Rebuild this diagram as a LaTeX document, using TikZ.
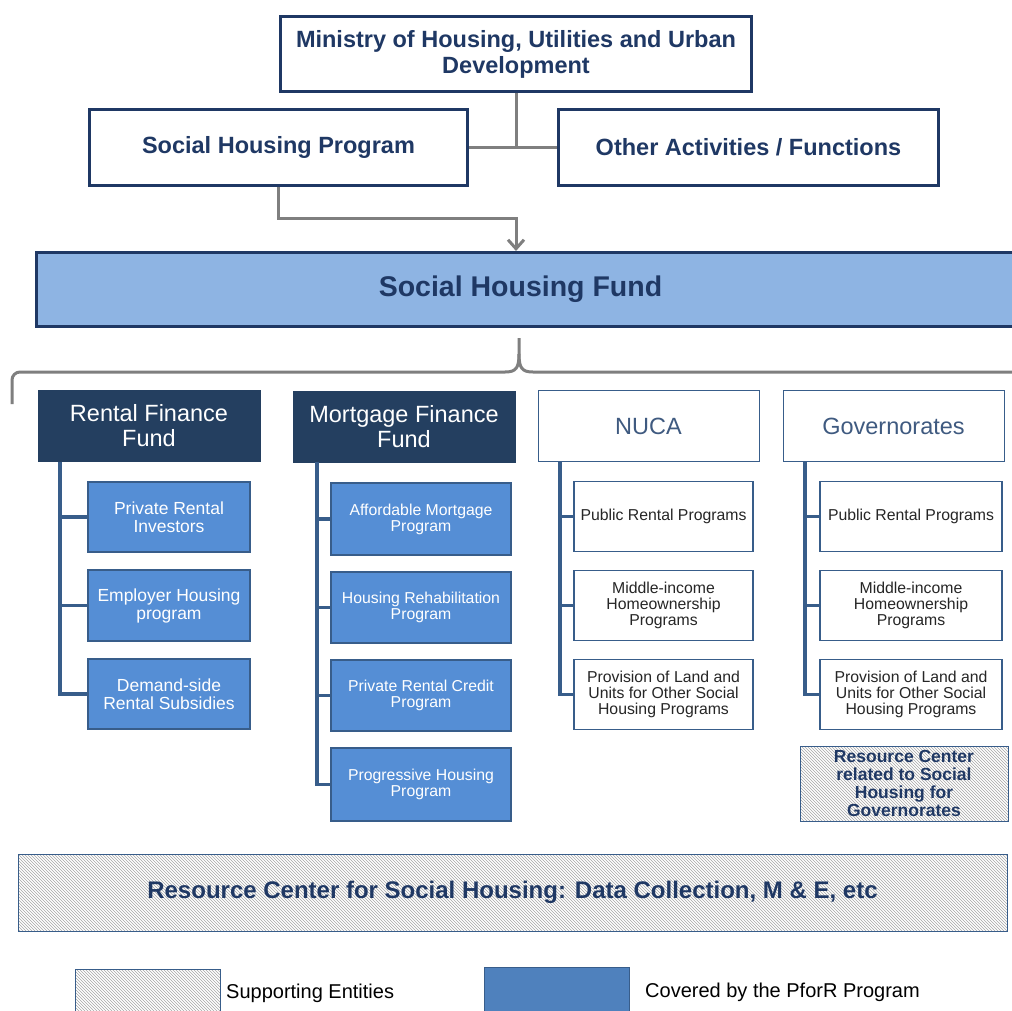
\documentclass[tikz,border=0pt]{standalone}
\usepackage{fontspec}
\setmainfont{Liberation Sans}
\usetikzlibrary{arrows.meta, patterns}
\definecolor{inkblue}{HTML}{1F3864}
\definecolor{edgeblue}{HTML}{385D8A}
\definecolor{fundfill}{HTML}{8EB4E3}
\definecolor{headfill}{HTML}{243F60}
\definecolor{subfill}{HTML}{558ED5}
\definecolor{legfill}{HTML}{4F81BD}
\definecolor{linkgray}{HTML}{7F7F7F}
\definecolor{nucatext}{HTML}{3F5A80}
\newcommand{\subSize}{\fontsize{17.5}{18}\selectfont}
\newcommand{\smallSub}{\fontsize{15.8}{16}\selectfont}
\tikzset{
  topbox/.style={draw=inkblue, line width=3pt, fill=white, text=inkblue, align=center, inner sep=0pt, font=\fontsize{23.5}{26}\selectfont\bfseries},
  fundbox/.style={draw=inkblue, line width=3pt, fill=fundfill, text=inkblue, inner sep=0pt, font=\fontsize{28.5}{32}\selectfont\bfseries},
  darkhead/.style={draw=headfill, fill=headfill, text=white, align=center, inner sep=0pt, minimum width=222pt, minimum height=71pt, font=\fontsize{23.5}{25}\selectfont},
  lighthead/.style={draw=edgeblue, line width=1pt, fill=white, text=nucatext, inner sep=0pt, minimum width=221pt, minimum height=71pt, font=\fontsize{23.5}{25}\selectfont},
  bluesub/.style={draw=edgeblue, line width=1.2pt, fill=subfill, text=white, align=center, inner sep=0pt},
  whitesub/.style={draw=edgeblue, line width=1.2pt, fill=white, text=black!85, align=center, inner sep=0pt, minimum height=70pt, font=\smallSub},
  hatchbox/.style={draw=edgeblue, line width=1pt, pattern=north west lines, pattern color=gray!70, text=inkblue, align=center, inner sep=0pt},
  treeline/.style={draw=edgeblue, line width=3.5pt},
  grayline/.style={draw=linkgray, line width=3pt}
}
\begin{document}
\begin{tikzpicture}[x=1pt, y=-1pt]
\useasboundingbox[fill=white] (0,0) rectangle (1012,1010);

% ministry and programs
\node[topbox, minimum width=471pt, minimum height=75pt] (min) at (516,54) {Ministry of Housing, Utilities and Urban\\Development};
\node[topbox, minimum width=378pt, minimum height=76pt] (shp) at (278.5,147.5) {Social Housing Program};
\node[topbox, minimum width=380pt, minimum height=76pt] (oth) at (748.5,147.5) {Other Activities / Functions};
\node[fundbox, minimum width=982pt, minimum height=74pt] (fund) at (527.5,289.5) {\hspace*{-14pt}Social Housing Fund};
\coordinate (elbow) at (0,218);

\draw[grayline] (min.south) -- (min.south |- shp.east);
\draw[grayline] (shp.east) -- (oth.west);
\draw[grayline, -{Straight Barb[length=9pt, width=16pt, line width=3pt]}] (shp.south) |- (elbow -| min.south) -- (min.south |- fund.north);

% brace
\draw[grayline, rounded corners=8pt] (12,404) -- (12,372) -- (505,372);
\draw[grayline] (505,372) .. controls (516,372) and (519,368) .. (519,354) -- (519,338);
\draw[grayline] (1015,372) -- (533,372) .. controls (522,372) and (519,368) .. (519,354);

% four branches
\node[darkhead] (rf) at (149,426) {Rental Finance\\Fund};
\node[darkhead] (mf) at (404,427) {Mortgage Finance\\Fund};
\node[lighthead] (nuca) at (648.5,426) {NUCA};
\node[lighthead] (gov) at (893.5,426) {Governorates};

\node[bluesub, minimum width=162pt, minimum height=70pt, font=\subSize] (r1) at (169,517) {Private Rental\\Investors};
\node[bluesub, minimum width=162pt, minimum height=71pt, font=\subSize] (r2) at (169,605.5) {Employer Housing\\program};
\node[bluesub, minimum width=162pt, minimum height=70pt, font=\subSize] (r3) at (169,694) {Demand-side\\Rental Subsidies};

\node[bluesub, minimum width=180pt, minimum height=72pt, font=\smallSub] (m1) at (421,519) {Affordable Mortgage\\Program};
\node[bluesub, minimum width=180pt, minimum height=71pt, font=\smallSub] (m2) at (421,607.5) {Housing Rehabilitation\\Program};
\node[bluesub, minimum width=180pt, minimum height=71pt, font=\smallSub] (m3) at (421,695.5) {Private Rental Credit\\Program};
\node[bluesub, minimum width=180pt, minimum height=73pt, font=\smallSub] (m4) at (421,784.5) {Progressive Housing\\Program};

\node[whitesub, minimum width=179pt] (n1) at (663.5,516.5) {Public Rental Programs};
\node[whitesub, minimum width=179pt] (n2) at (663.5,605.5) {Middle-income\\Homeownership\\Programs};
\node[whitesub, minimum width=179pt] (n3) at (663.5,694.5) {Provision of Land and\\Units for Other Social\\Housing Programs};

\node[whitesub, minimum width=182pt] (g1) at (911,516.5) {Public Rental Programs};
\node[whitesub, minimum width=182pt] (g2) at (911,605.5) {Middle-income\\Homeownership\\Programs};
\node[whitesub, minimum width=182pt] (g3) at (911,694.5) {Provision of Land and\\Units for Other Social\\Housing Programs};

\node[hatchbox, minimum width=208pt, minimum height=75pt, font=\fontsize{17.5}{18}\selectfont\bfseries] (rcg) at (904,783.5) {Resource Center\\related to Social\\Housing for\\Governorates};

% tree lines
\coordinate (rft) at (60,462);
\coordinate (mft) at (317,462);
\coordinate (nct) at (560,462);
\coordinate (gvt) at (805,462);
\draw[treeline] (rft) |- (r3.west);
\draw[treeline] (rft |- r1.west) -- (r1.west);
\draw[treeline] (rft |- r2.west) -- (r2.west);
\draw[treeline] (mft) |- (m4.west);
\draw[treeline] (mft |- m1.west) -- (m1.west);
\draw[treeline] (mft |- m2.west) -- (m2.west);
\draw[treeline] (mft |- m3.west) -- (m3.west);
\draw[treeline] (nct) |- (n3.west);
\draw[treeline] (nct |- n1.west) -- (n1.west);
\draw[treeline] (nct |- n2.west) -- (n2.west);
\draw[treeline] (gvt) |- (g3.west);
\draw[treeline] (gvt |- g1.west) -- (g1.west);
\draw[treeline] (gvt |- g2.west) -- (g2.west);

% resource center and legend
\node[hatchbox, minimum width=989pt, minimum height=77pt, font=\fontsize{24}{28}\selectfont\bfseries] (rc) at (512.5,892.5) {Resource Center for Social Housing: Data Collection, M \& E, etc};

\node[hatchbox, minimum width=145pt, minimum height=46pt] (keyhatch) at (147.5,992) {};
\node[anchor=west, inner sep=0pt, font=\fontsize{20}{22}\selectfont] (keyhatchtxt) at (226,993) {Supporting Entities};
\node[draw=edgeblue, line width=1pt, fill=legfill, minimum width=145pt, minimum height=48pt] (keyblue) at (556.5,991) {};
\node[anchor=west, inner sep=0pt, font=\fontsize{20}{22}\selectfont] (keybluetxt) at (645,992) {Covered by the PforR Program};
\end{tikzpicture}
\end{document}
